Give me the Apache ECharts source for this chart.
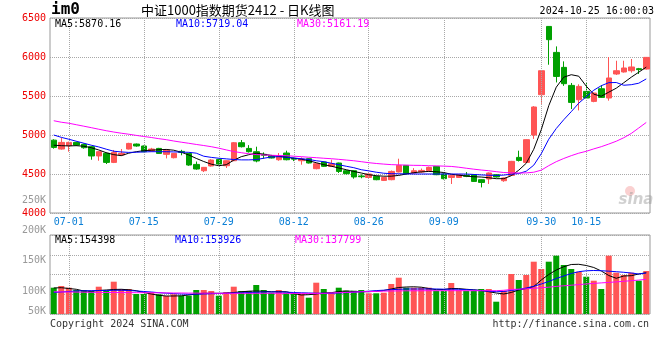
<!DOCTYPE html>
<html><head><meta charset="utf-8">
<script src="https://cdn.jsdelivr.net/npm/echarts@6/dist/echarts.min.js"></script>
<style>html,body{margin:0;padding:0;background:#fff}#c{width:660px;height:360px}</style>
</head><body><div id="c"></div>
<script>
const dates = ['06-27','06-28','07-01','07-02','07-03','07-04','07-05','07-08','07-09','07-10',
'07-11','07-12','07-15','07-16','07-17','07-18','07-19','07-22','07-23','07-24',
'07-25','07-26','07-29','07-30','07-31','08-01','08-02','08-05','08-06','08-07',
'08-08','08-09','08-12','08-13','08-14','08-15','08-16','08-19','08-20','08-21',
'08-22','08-23','08-26','08-27','08-28','08-29','08-30','09-02','09-03','09-04',
'09-05','09-06','09-09','09-10','09-11','09-12','09-13','09-18','09-19','09-20',
'09-23','09-24','09-25','09-26','09-27','09-30','10-08','10-09','10-10','10-11',
'10-14','10-15','10-16','10-17','10-18','10-21','10-22','10-23','10-24','10-25'];
const labelDates = ['07-01','07-15','07-29','08-12','08-26','09-09','09-30','10-15'];

const opens = [4934,4820,4863,4905,4880,4850,4731,4765,4649,4744,
4820,4884,4859,4795,4828,4752,4709,4790,4764,4623,
4542,4603,4687,4606,4670,4901,4828,4786,4752,4735,
4683,4769,4700,4670,4696,4568,4654,4598,4641,4542,
4542,4475,4456,4469,4418,4427,4526,4610,4513,4526,
4542,4597,4500,4456,4456,4482,4491,4427,4436,4491,
4414,4482,4713,4649,5000,5517,6392,6059,5867,5636,
5452,5559,5431,5593,5474,5782,5808,5824,5850,5846];
const closes = [4841,4905,4905,4871,4837,4731,4786,4649,4777,4765,
4892,4859,4786,4820,4764,4808,4764,4777,4615,4564,
4585,4679,4628,4670,4901,4850,4786,4667,4739,4705,
4726,4683,4690,4692,4641,4632,4598,4632,4533,4504,
4462,4465,4500,4427,4456,4533,4610,4504,4542,4546,
4585,4491,4440,4482,4491,4470,4405,4392,4513,4462,
4449,4662,4674,4940,5359,5824,6222,5751,5658,5418,
5623,5474,5538,5482,5731,5824,5859,5872,5838,5995];
const lows = [4825,4812,4786,4860,4825,4683,4670,4628,4640,4735,
4815,4850,4780,4785,4760,4700,4700,4740,4605,4555,
4525,4595,4620,4577,4665,4840,4775,4650,4696,4700,
4670,4675,4665,4619,4635,4560,4590,4590,4513,4495,
4440,4445,4445,4420,4410,4420,4520,4495,4505,4515,
4535,4485,4430,4372,4450,4460,4400,4328,4372,4455,
4400,4478,4660,4640,4950,5400,5901,5674,5630,5333,
5315,5465,5420,5475,5440,5770,5800,5800,5782,5840];
const highs = [4945,4965,4915,4915,4890,4860,4795,4775,4808,4820,
4900,4890,4865,4835,4835,4815,4770,4810,4770,4660,
4590,4690,4695,4675,4910,4936,4870,4850,4777,4745,
4769,4799,4710,4713,4700,4640,4660,4683,4645,4550,
4548,4495,4505,4475,4462,4545,4696,4615,4575,4570,
4595,4600,4510,4490,4500,4525,4495,4432,4520,4500,
4455,4668,4799,4945,5370,5830,6395,6136,5944,5667,
5650,5667,5545,5640,6000,5952,5952,5974,5860,6000];

const ma5 = [4869,4863,4860,4863,4856,4837,4808,4773,4748,4735,
4767,4786,4799,4805,4811,4815,4805,4779,4744,4700,
4660,4626,4606,4619,4677,4722,4747,4767,4754,4738,
4728,4715,4702,4690,4670,4645,4619,4600,4577,4555,
4533,4513,4491,4478,4472,4472,4482,4500,4517,4527,
4533,4529,4519,4497,4485,4474,4465,4461,4452,4440,
4440,4478,4549,4638,4817,5068,5376,5613,5741,5773,
5754,5626,5523,5497,5549,5600,5670,5741,5805,5870];
const ma10 = [5000,4970,4946,4920,4895,4869,4847,4818,4792,4783,
4777,4779,4783,4786,4786,4786,4783,4781,4778,4767,
4728,4713,4702,4694,4686,4681,4681,4685,4702,4718,
4722,4715,4705,4696,4686,4670,4658,4638,4619,4599,
4581,4555,4540,4523,4510,4504,4503,4501,4500,4500,
4500,4500,4500,4500,4500,4499,4494,4488,4484,4482,
4486,4497,4506,4536,4613,4760,4946,5083,5196,5299,
5408,5491,5574,5632,5671,5673,5638,5645,5664,5719];
const ma30 = [5183,5164,5151,5132,5113,5094,5074,5055,5038,5023,
5010,4995,4981,4968,4953,4940,4923,4908,4894,4879,
4865,4850,4831,4809,4788,4773,4760,4749,4744,4740,
4737,4735,4728,4722,4715,4709,4702,4696,4688,4679,
4670,4658,4645,4635,4627,4620,4617,4614,4611,4610,
4606,4604,4601,4597,4587,4574,4562,4551,4542,4530,
4519,4515,4513,4514,4523,4549,4607,4658,4699,4735,
4767,4791,4822,4850,4884,4920,4965,5020,5090,5161];

const volumes = [116590,120900,116590,110770,110770,108240,119120,108240,131780,113300,
113300,100640,100640,104940,99880,95580,99880,96340,96340,110770,
110770,108240,96340,105700,119120,108240,108240,123430,110770,103930,
110770,103930,100640,100640,91270,129250,113300,103930,116590,109000,
109000,110770,102410,102410,103930,125960,141910,116590,116590,116590,
116590,109000,109000,128490,110770,109000,109000,113300,113300,81140,
109000,151280,136090,148750,182420,163940,182420,197620,174070,163940,
157100,144440,134320,113300,197620,154570,148750,154570,134320,158880];
const volMa5 = [115830,116590,114570,112540,108240,107730,109500,110770,112030,112540,
111270,109000,104440,100640,97350,95580,95580,96080,98110,100640,
102410,102410,102410,102410,104440,106210,107730,108240,107480,106460,
106460,106460,101910,98110,98870,100640,103170,103930,106970,108240,
106970,106460,106460,107480,109500,113300,117100,118360,118870,117860,
114570,111530,112030,114570,114320,112540,111270,109500,106460,103170,
100640,104440,110770,114570,119630,136090,150010,161410,169760,175330,
175840,172800,167740,158880,147480,140390,146220,146980,151280,154398];
const volMa10 = [104440,105700,106970,108240,108750,109000,109500,109500,110010,110010,
109500,108240,106970,105700,103930,102660,101650,100640,100130,100130,
100640,101400,101910,102660,103170,103680,104440,104940,105700,105700,
105700,105200,104440,103680,103170,102660,102410,102410,103170,104190,
105200,106460,107730,109250,110260,111530,112540,113300,113300,113300,
113300,113300,112790,112790,112540,111780,110770,109250,107730,106460,
106970,109500,112030,115830,120140,125960,132290,139890,146220,152550,
157100,159390,160140,159640,158370,157100,155580,153810,151280,153926];
const volMa30 = [106210,105960,105700,105450,105200,104940,104690,104440,104440,104190,
104190,103930,103930,103680,103680,103420,103170,103170,102920,102920,
102660,102660,102410,102410,102410,102410,102410,102410,102410,102410,
102410,102160,102160,102160,102160,102160,102410,103170,103930,104690,
105450,106210,106720,107220,107730,108240,108490,108750,108750,108750,
109000,109000,109000,109000,109000,109000,109000,109000,109000,109000,
110010,112030,112790,113810,115070,116590,117860,119880,121400,122920,
124440,125960,127480,128740,130010,131280,132800,134320,135840,137799];

const volTickLabels = ['250K','200K','150K','100K','50K'];
const titleCode = 'im0';
const titleText = '中证1000指数期货2412 - 日K线图';
const stampText = '2024-10-25 16:00:03';
const mainLegend = ['MA5:5870.16','MA10:5719.04','MA30:5161.19'];
const volLegend = ['MA5:154398','MA10:153926','MA30:137799'];

const MONO = '"DejaVu Sans Mono", "Liberation Mono", monospace';
const UP = '#ff5555', DOWN = '#00a000';
const LINE_COLORS = ['#000000','#0000ff','#ff00ff'];
const dotted = {type:'dotted', color:'#a8a8a8', width:1};

const candleData = dates.map((d,i)=>[opens[i], closes[i], lows[i], highs[i]]);
const volData = volumes.map((v,i)=>({value:v, itemStyle:{color: closes[i] >= opens[i] ? UP : DOWN}}));
const labelIdx = new Set(labelDates.map(d=>dates.indexOf(d)));

function maSeries(data, color, xi, yi){
  return {type:'line', data, xAxisIndex:xi, yAxisIndex:yi, symbol:'none', showSymbol:false,
    silent:true, z:5, lineStyle:{color, width:1}, emphasis:{disabled:true}};
}
function vGrid(xi, yi){
  return {type:'line', data: xi===0 ? closes : volumes, xAxisIndex:xi, yAxisIndex:yi, symbol:'none', showSymbol:false,
    silent:true, z:1, lineStyle:{opacity:0, width:0}, emphasis:{disabled:true},
    markLine:{symbol:['none','none'], silent:true, animation:false, label:{show:false},
      lineStyle:dotted, emphasis:{disabled:true}, data: labelDates.map(d=>({xAxis:d}))}};
}

const graphics = [];
function txt(x, y, text, fill, font, align){
  graphics.push({type:'text', x, y, silent:true, z:10,
    style:{text, fill, font, textAlign: align||'left', textVerticalAlign:'middle'}});
}
txt(51, 10, titleCode, '#000', 'bold 16px ' + MONO);
txt(141, 10, titleText, '#000', '13px "Noto Sans CJK SC", sans-serif');
txt(654, 11, stampText, '#000', '10px ' + MONO, 'right');
[55,176,297].forEach((x,k)=>txt(x, 24, mainLegend[k], LINE_COLORS[k], '10px ' + MONO));
[55,175,295].forEach((x,k)=>txt(x, 240, volLegend[k], LINE_COLORS[k], '10px ' + MONO));
[200,230,260,291,311].forEach((y,k)=>txt(46, y, volTickLabels[k], '#999', '10px ' + MONO, 'right'));
txt(50, 324, 'Copyright 2024 SINA.COM', '#333', '10px ' + MONO);
txt(649, 324, 'http://finance.sina.com.cn', '#333', '10px ' + MONO, 'right');
graphics.push({type:'circle', shape:{cx:630, cy:191, r:5}, silent:true, z:9, style:{fill:'rgba(240,120,120,0.35)'}});
txt(636, 200, 'sina', 'rgba(150,150,150,0.45)', 'italic bold 15px "DejaVu Sans", sans-serif', 'center');

const chart = echarts.init(document.getElementById('c'));
chart.setOption({
  animation:false,
  backgroundColor:'#fff',
  grid:[
    {left:50, top:18, width:600, height:195, show:true, borderColor:'#999', borderWidth:1},
    {left:50, top:235, width:600, height:79, show:true, borderColor:'#999', borderWidth:1}
  ],
  xAxis:[
    {type:'category', gridIndex:0, data:dates, boundaryGap:true,
      axisLine:{show:false}, axisTick:{show:false}, splitLine:{show:false},
      axisLabel:{interval:(i)=>labelIdx.has(i), color:'#0a7fd6', fontFamily:MONO, fontSize:10, margin:4}},
    {type:'category', gridIndex:1, data:dates, boundaryGap:true,
      axisLine:{show:false}, axisTick:{show:false}, splitLine:{show:false}, axisLabel:{show:false}}
  ],
  yAxis:[
    {type:'value', gridIndex:0, min:4000, max:6500, interval:500,
      axisLine:{show:false}, axisTick:{show:false},
      axisLabel:{color:'#ee0000', fontFamily:MONO, fontSize:10, margin:4, formatter:(v)=>String(v)},
      splitLine:{lineStyle:dotted}},
    {type:'value', gridIndex:1, min:50000, max:250000, interval:50000,
      axisLine:{show:false}, axisTick:{show:false}, axisLabel:{show:false},
      splitLine:{lineStyle:dotted}}
  ],
  series:[
    vGrid(0,0), vGrid(1,1),
    {type:'candlestick', xAxisIndex:0, yAxisIndex:0, data:candleData, barWidth:6, z:3, silent:true,
      itemStyle:{color:UP, color0:DOWN, borderColor:UP, borderColor0:DOWN, borderWidth:1}},
    maSeries(ma5, LINE_COLORS[0], 0, 0),
    maSeries(ma10, LINE_COLORS[1], 0, 0),
    maSeries(ma30, LINE_COLORS[2], 0, 0),
    {type:'bar', xAxisIndex:1, yAxisIndex:1, data:volData, barWidth:6, z:3, silent:true},
    maSeries(volMa5, LINE_COLORS[0], 1, 1),
    maSeries(volMa10, LINE_COLORS[1], 1, 1),
    maSeries(volMa30, LINE_COLORS[2], 1, 1)
  ],
  graphic: graphics
});
</script></body></html>
